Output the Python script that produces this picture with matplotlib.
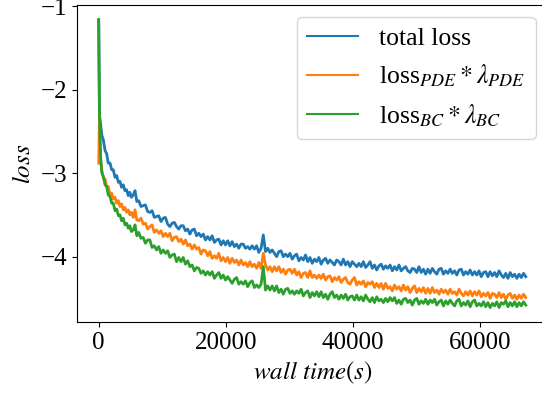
import numpy as np
import matplotlib
matplotlib.use('Agg')
import matplotlib.pyplot as plt

plt.rcParams['font.family'] = ['Liberation Serif', 'DejaVu Serif']
plt.rcParams['mathtext.fontset'] = 'stix'
plt.rcParams['font.size'] = 18

# sampling times (s): dense at the start, then every 350 s
wall_time = np.concatenate([
    [0, 120, 300, 500, 730, 1000, 1260, 1500, 1780, 2050, 2300, 2570, 2830,
     3100, 3350, 3600, 3870, 4130, 4400, 4650, 4900, 5150, 5440, 5720, 6000],
    np.arange(6300, 67400, 350),
])

total_loss = [
    # start
    -1.17, -2.30, -2.41, -2.55, -2.60, -2.73, -2.77, -2.88, -2.88, -2.96,
    -2.96, -3.05, -3.03, -3.11, -3.10, -3.17, -3.14, -3.21, -3.20, -3.27,
    -3.23, -3.29, -3.26, -3.21, -3.34,
    # 6300 s onwards
    -3.33, -3.40, -3.39, -3.38, -3.46, -3.47, -3.45, -3.53, -3.52, -3.51,
    -3.58, -3.54, -3.53, -3.61, -3.64, -3.60, -3.59, -3.64, -3.67, -3.63,
    -3.63, -3.69, -3.67, -3.73, -3.68, -3.67, -3.75, -3.72, -3.76, -3.73,
    -3.80, -3.76, -3.80, -3.75, -3.83, -3.80, -3.79, -3.86, -3.81, -3.86,
    -3.81, -3.87, -3.82, -3.88, -3.85, -3.90, -3.85, -3.85, -3.90, -3.88,
    -3.91, -3.87, -3.91, -3.87, -3.95, -3.90, -3.74, -3.94, -3.90, -3.95,
    -3.92, -3.96, -4.00, -3.94, -3.93, -4.00, -3.97, -4.00, -3.96, -4.03,
    -3.99, -3.97, -4.05, -4.01, -4.04, -3.98, -4.06, -4.01, -4.08, -4.03,
    -4.06, -4.01, -4.09, -4.04, -4.02, -4.08, -4.04, -4.07, -4.10, -4.04,
    -4.06, -4.10, -4.03, -4.10, -4.06, -4.12, -4.06, -4.09, -4.12, -4.08,
    -4.12, -4.06, -4.13, -4.10, -4.06, -4.14, -4.10, -4.16, -4.11, -4.09,
    -4.15, -4.11, -4.14, -4.10, -4.17, -4.12, -4.16, -4.10, -4.17, -4.14,
    -4.12, -4.17, -4.19, -4.14, -4.15, -4.19, -4.12, -4.19, -4.15, -4.21,
    -4.15, -4.20, -4.14, -4.18, -4.21, -4.15, -4.14, -4.21, -4.17, -4.20,
    -4.15, -4.20, -4.17, -4.22, -4.16, -4.15, -4.22, -4.18, -4.21, -4.16,
    -4.22, -4.18, -4.22, -4.17, -4.24, -4.19, -4.18, -4.24, -4.18, -4.23,
    -4.19, -4.24, -4.17, -4.22, -4.25, -4.20, -4.26, -4.19, -4.24, -4.21,
    -4.26, -4.21, -4.25, -4.20, -4.24,
]

loss_pde = [
    -2.88, -2.30, -2.86, -2.97, -3.06, -3.07, -3.16, -3.16, -3.25, -3.24,
    -3.31, -3.29, -3.36, -3.33, -3.40, -3.37, -3.44, -3.41, -3.47, -3.44,
    -3.50, -3.47, -3.53, -3.44, -3.56,
    -3.57, -3.54, -3.61, -3.60, -3.67, -3.64, -3.62, -3.71, -3.68, -3.72,
    -3.69, -3.76, -3.72, -3.76, -3.72, -3.81, -3.77, -3.76, -3.82, -3.79,
    -3.85, -3.80, -3.87, -3.85, -3.91, -3.86, -3.91, -3.89, -3.97, -3.92,
    -3.93, -3.99, -3.94, -4.02, -3.99, -4.02, -3.96, -4.05, -4.01, -4.06,
    -4.01, -4.08, -4.02, -4.07, -4.04, -4.10, -4.04, -4.10, -4.07, -4.12,
    -4.06, -4.12, -4.09, -4.14, -4.07, -4.14, -3.96, -4.10, -4.16, -4.12,
    -4.18, -4.12, -4.17, -4.12, -4.19, -4.15, -4.21, -4.16, -4.15, -4.20,
    -4.15, -4.22, -4.18, -4.25, -4.20, -4.19, -4.25, -4.17, -4.25, -4.22,
    -4.26, -4.22, -4.26, -4.21, -4.28, -4.24, -4.23, -4.30, -4.25, -4.28,
    -4.24, -4.31, -4.27, -4.25, -4.31, -4.33, -4.28, -4.25, -4.34, -4.30,
    -4.33, -4.29, -4.36, -4.31, -4.33, -4.30, -4.37, -4.32, -4.37, -4.32,
    -4.39, -4.32, -4.38, -4.36, -4.41, -4.34, -4.39, -4.36, -4.41, -4.34,
    -4.40, -4.36, -4.43, -4.38, -4.35, -4.43, -4.38, -4.42, -4.37, -4.44,
    -4.38, -4.44, -4.37, -4.43, -4.40, -4.45, -4.39, -4.43, -4.40, -4.45,
    -4.39, -4.44, -4.42, -4.46, -4.39, -4.44, -4.47, -4.42, -4.46, -4.41,
    -4.47, -4.42, -4.46, -4.41, -4.48, -4.44, -4.47, -4.43, -4.50, -4.44,
    -4.45, -4.49, -4.43, -4.49, -4.45, -4.51, -4.46, -4.44, -4.50, -4.46,
    -4.51, -4.46, -4.50, -4.45, -4.49,
]

loss_bc = [
    -1.16, -2.30, -2.79, -3.00, -3.04, -3.14, -3.16, -3.26, -3.28, -3.36,
    -3.36, -3.45, -3.43, -3.51, -3.50, -3.57, -3.54, -3.62, -3.60, -3.66,
    -3.63, -3.70, -3.68, -3.62, -3.75,
    -3.71, -3.78, -3.77, -3.84, -3.80, -3.80, -3.89, -3.87, -3.92, -3.88,
    -3.96, -3.92, -3.96, -3.93, -4.01, -3.98, -3.97, -4.06, -4.01, -4.06,
    -4.01, -4.09, -4.05, -4.12, -4.10, -4.17, -4.13, -4.14, -4.20, -4.17,
    -4.22, -4.18, -4.22, -4.18, -4.26, -4.22, -4.19, -4.26, -4.22, -4.28,
    -4.24, -4.28, -4.32, -4.27, -4.25, -4.33, -4.30, -4.33, -4.29, -4.36,
    -4.31, -4.29, -4.37, -4.34, -4.37, -4.33, -4.12, -4.40, -4.35, -4.40,
    -4.35, -4.41, -4.35, -4.43, -4.39, -4.45, -4.39, -4.38, -4.44, -4.41,
    -4.45, -4.41, -4.44, -4.39, -4.47, -4.43, -4.41, -4.49, -4.43, -4.47,
    -4.42, -4.48, -4.42, -4.49, -4.45, -4.51, -4.45, -4.42, -4.49, -4.46,
    -4.51, -4.46, -4.50, -4.45, -4.52, -4.48, -4.47, -4.52, -4.46, -4.52,
    -4.48, -4.53, -4.46, -4.51, -4.54, -4.49, -4.55, -4.48, -4.53, -4.51,
    -4.55, -4.50, -4.54, -4.49, -4.53, -4.49, -4.56, -4.52, -4.57, -4.51,
    -4.50, -4.55, -4.52, -4.58, -4.52, -4.50, -4.57, -4.53, -4.56, -4.51,
    -4.57, -4.52, -4.55, -4.51, -4.58, -4.54, -4.52, -4.59, -4.53, -4.57,
    -4.52, -4.56, -4.59, -4.53, -4.51, -4.59, -4.55, -4.58, -4.53, -4.60,
    -4.54, -4.52, -4.59, -4.56, -4.59, -4.54, -4.60, -4.55, -4.61, -4.56,
    -4.59, -4.54, -4.61, -4.55, -4.57, -4.53, -4.60, -4.55, -4.59, -4.54,
    -4.60, -4.55, -4.59, -4.54, -4.58,
]

labels = ['total loss',
          r'loss$_{PDE}*\lambda_{PDE}$',
          r'loss$_{BC}*\lambda_{BC}$']

fig = plt.figure(figsize=(5.42, 3.95), dpi=100)
# the original figure is cropped on the right, so the axes run past the edge
ax = fig.add_axes([0.1427, 0.1848, 0.8667, 0.8025])

ax.plot(wall_time, total_loss, color='#1f77b4', lw=2.0, label=labels[0])
ax.plot(wall_time, loss_pde, color='#ff7f0e', lw=2.0, label=labels[1])
ax.plot(wall_time, loss_bc, color='#2ca02c', lw=2.0, label=labels[2])

ax.set_xticks([0, 20000, 40000, 60000])
ax.set_yticks([-1, -2, -3, -4])
ax.set_xlabel(r'$wall\ time(s)$')
ax.set_ylabel(r'$loss$')
leg = ax.legend(loc='upper right', fontsize=18.5, borderaxespad=0.45)
for line in leg.get_lines():
    line.set_linewidth(1.5)

fig.savefig('out.png', dpi=100)
